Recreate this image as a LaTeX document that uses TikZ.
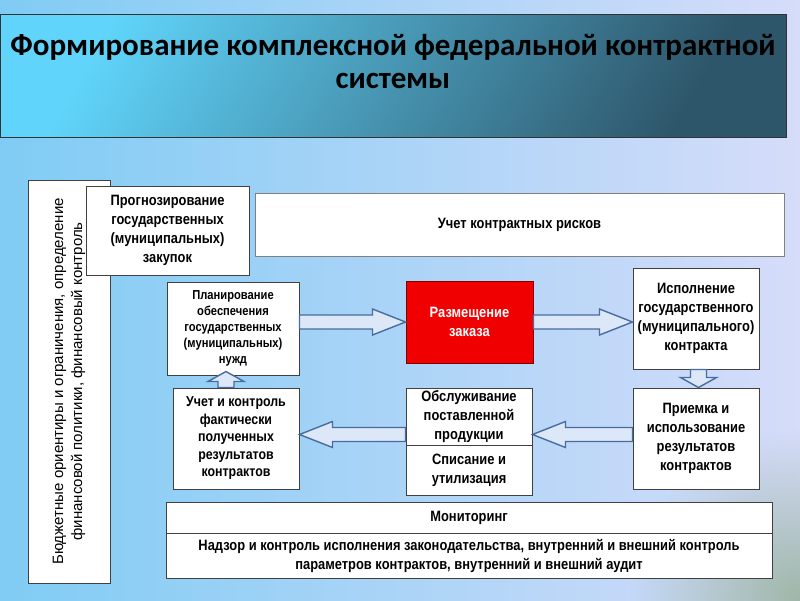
\documentclass[tikz,border=0pt]{standalone}
\usepackage{fontspec}
\setmainfont{Liberation Sans}
\newfontfamily\narrowfont{Liberation Sans}[FakeStretch=0.86]
\newfontfamily\titlefont{Carlito}
\usetikzlibrary{calc,fadings}

\definecolor{bgleft}{RGB}{128,204,244}
\definecolor{bgright}{RGB}{214,220,250}
\definecolor{bgcorner}{RGB}{140,170,140}
\definecolor{titlelight}{RGB}{96,212,250}
\definecolor{titledark}{RGB}{46,86,106}
\definecolor{arrowline}{RGB}{72,108,160}
\definecolor{arrowfill}{RGB}{220,232,248}
\definecolor{orderred}{RGB}{240,0,0}

\tikzfading[name=softspot, inner color=transparent!0, outer color=transparent!100]

% fat hollow arrows, horizontal and vertical
\newcommand{\hfat}[2]{%
  \draw[fatarrow] let \p1=#1, \p2=#2, \n1={\x2-sign(\x2-\x1)*33pt} in
    (\x1,\y1+7pt) -- (\n1,\y1+7pt) -- (\n1,\y1+13pt) -- (\x2,\y1)
    -- (\n1,\y1-13pt) -- (\n1,\y1-7pt) -- (\x1,\y1-7pt) -- cycle;}
\newcommand{\vfat}[2]{%
  \draw[fatarrow] let \p1=#1, \p2=#2, \n1={\y2-sign(\y2-\y1)*10pt} in
    (\x1-8pt,\y1) -- (\x1-8pt,\n1) -- (\x1-18pt,\n1) -- (\x1,\y2)
    -- (\x1+18pt,\n1) -- (\x1+8pt,\n1) -- (\x1+8pt,\y1) -- cycle;}

\begin{document}
\begin{tikzpicture}[x=1pt, y=-1pt,
    box/.style={draw=black!75, fill=white, line width=1pt, align=center, inner sep=2pt,
        font=\narrowfont\bfseries\fontsize{15}{19}\selectfont},
    fatarrow/.style={draw=arrowline, fill=arrowfill, line width=1.4pt, line join=miter}]

    % Background
    \useasboundingbox (0,0) rectangle (800,600);
    \shade[left color=bgleft, right color=bgright] (0,0) rectangle (800,600);
    \begin{scope}
        \clip (0,0) rectangle (800,600);
        \fill[bgcorner, path fading=softspot, opacity=0.75] (800,600) circle (170);
    \end{scope}

    % Title
    \shade[draw=black!80, line width=1pt, left color=titlelight, right color=titledark,
        shading angle=60] (0,14) rectangle (786,137);
    \node[font=\titlefont\bfseries\fontsize{31}{33}\selectfont, align=center] (title)
        at (393,62) {Формирование комплексной федеральной контрактной\\системы};

    % Left column
    \node[box, rotate=90, minimum width=403pt, minimum height=82pt,
        font=\fontsize{15}{19}\selectfont] (budget) at (69,381.5)
        {Бюджетные ориентиры и ограничения, определение\\финансовой политики, финансовый контроль};

    % Top row
    \node[box, minimum width=163pt, minimum height=89pt] (prog) at (167.5,230.5)
        {Прогнозирование\\государственных\\(муниципальных)\\закупок};
    \node[box, draw=black!50, minimum width=529pt, minimum height=63pt] (risk) at (519.5,224.5)
        {Учет контрактных рисков};

    % Middle row
    \node[box, minimum width=132pt, minimum height=93pt,
        font=\narrowfont\bfseries\fontsize{13}{16}\selectfont] (plan) at (233,328.5)
        {Планирование\\обеспечения\\государственных\\(муниципальных)\\нужд};
    \node[box, fill=orderred, draw=red!50!black, text=white, minimum width=127pt,
        minimum height=82pt] (razm) at (469.5,322) {Размещение\\заказа};
    \node[box, minimum width=126pt, minimum height=101pt] (isp) at (696,318.5)
        {Исполнение\\государственного\\(муниципального)\\контракта};

    % Bottom row
    \node[box, minimum width=126pt, minimum height=101pt,
        font=\narrowfont\bfseries\fontsize{14.4}{17.5}\selectfont] (uchet) at (236,438.5)
        {Учет и контроль\\фактически\\полученных\\результатов\\контрактов};
    \node[box, minimum width=126pt, minimum height=57pt] (obsl) at (469,416.5)
        {Обслуживание\\поставленной\\продукции};
    \node[box, minimum width=126pt, minimum height=50pt] (spis) at (469,470)
        {Списание и\\утилизация};
    \node[box, minimum width=126pt, minimum height=101pt] (priem) at (696,438.5)
        {Приемка и\\использование\\результатов\\контрактов};

    % Monitoring
    \node[box, minimum width=606pt, minimum height=31pt] (monit) at (469,517.5) {Мониторинг};
    \node[box, minimum width=606pt, minimum height=45pt] (nadzor) at (469,555.5)
        {Надзор и контроль исполнения законодательства, внутренний и внешний контроль\\
         параметров контрактов, внутренний и внешний аудит};

    % Arrows
    \hfat{(plan.east |- razm.west)}{(razm.west)}
    \hfat{(razm.east)}{(isp.west |- razm.east)}
    \vfat{($(isp.south)+(2.5,0)$)}{($(priem.north)+(2.5,0)$)}
    \hfat{($(priem.west)+(0,-4)$)}{($(obsl.east |- priem.west)+(0,-4)$)}
    \hfat{($(obsl.west |- priem.west)+(0,-4)$)}{($(uchet.east |- priem.west)+(0,-4)$)}
    \vfat{($(uchet.north)+(-10,0)$)}{($(uchet.north |- plan.south)+(-10,-4)$)}

\end{tikzpicture}
\end{document}
